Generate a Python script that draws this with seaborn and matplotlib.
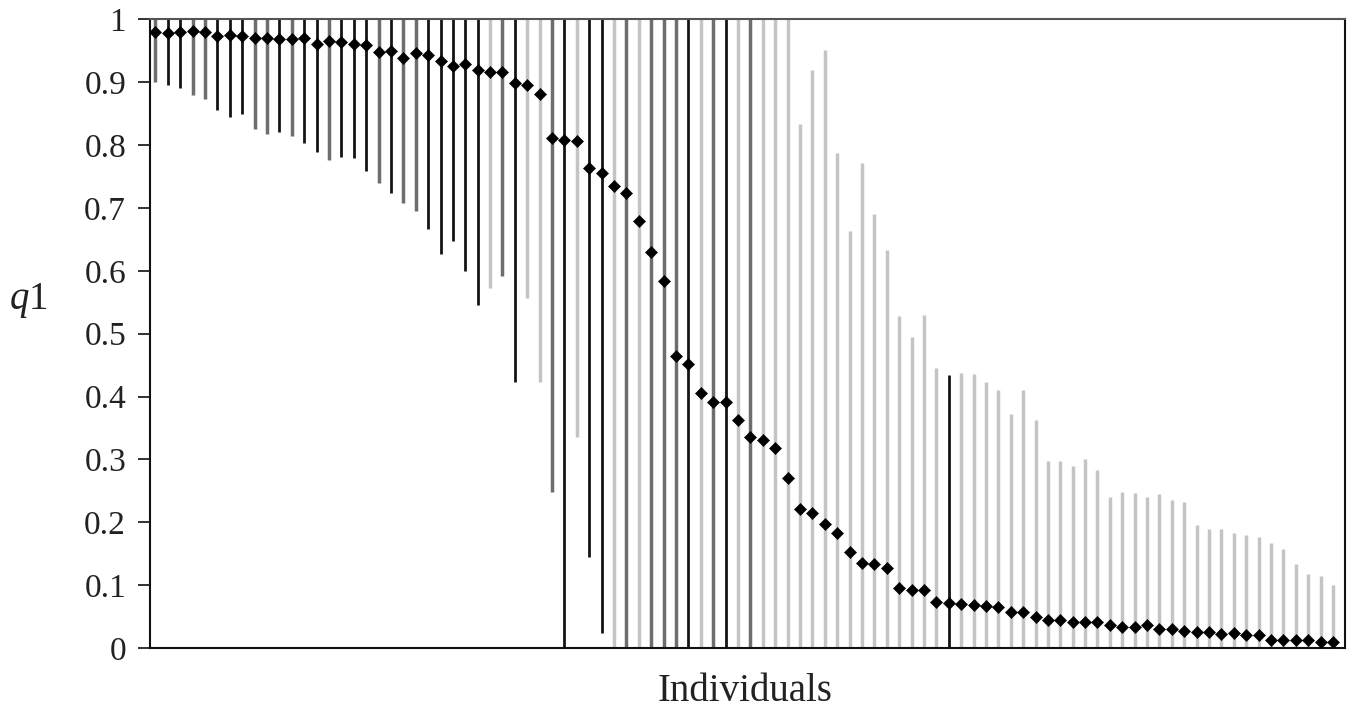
import numpy as np
import pandas as pd
import matplotlib
matplotlib.use('Agg')
import matplotlib.pyplot as plt
import seaborn as sns

# posterior mean of q1 and interval bounds, one entry per individual (sorted)
q_mean = [0.980, 0.978, 0.980, 0.982, 0.980, 0.974, 0.975, 0.974, 0.971, 0.970,
          0.968, 0.968, 0.970, 0.961, 0.966, 0.964, 0.960, 0.959, 0.948, 0.949,
          0.939, 0.947, 0.943, 0.933, 0.926, 0.929, 0.920, 0.916, 0.916, 0.898,
          0.896, 0.881, 0.812, 0.808, 0.806, 0.764, 0.755, 0.735, 0.724, 0.680,
          0.630, 0.583, 0.465, 0.452, 0.405, 0.391, 0.391, 0.362, 0.336, 0.331,
          0.318, 0.271, 0.221, 0.214, 0.198, 0.183, 0.152, 0.136, 0.133, 0.127,
          0.096, 0.092, 0.092, 0.074, 0.072, 0.070, 0.069, 0.067, 0.065, 0.057,
          0.057, 0.049, 0.045, 0.045, 0.042, 0.042, 0.042, 0.037, 0.034, 0.034,
          0.036, 0.031, 0.030, 0.027, 0.025, 0.025, 0.022, 0.024, 0.020, 0.020,
          0.012, 0.012, 0.013, 0.013, 0.010, 0.010]

q_low = [0.900, 0.895, 0.890, 0.879, 0.873, 0.856, 0.845, 0.850, 0.825, 0.817,
         0.821, 0.814, 0.804, 0.789, 0.777, 0.781, 0.780, 0.759, 0.739, 0.723,
         0.708, 0.695, 0.667, 0.626, 0.647, 0.600, 0.545, 0.573, 0.592, 0.423,
         0.556, 0.423, 0.248, 0.000, 0.335, 0.144, 0.024] + [0.0] * 59

q_high = [1.0] * 52 + [
    0.833, 0.920, 0.951, 0.788, 0.663, 0.772, 0.691, 0.633, 0.528, 0.495,
    0.530, 0.446, 0.435, 0.438, 0.436, 0.423, 0.411, 0.373, 0.411, 0.362,
    0.298, 0.297, 0.289, 0.301, 0.283, 0.240, 0.248, 0.246, 0.240, 0.245,
    0.236, 0.232, 0.196, 0.190, 0.190, 0.183, 0.179, 0.177, 0.167, 0.158,
    0.134, 0.118, 0.115, 0.101]

# line shade per individual: k = black, m = mid grey, l = light grey
tone = list("mkkmmkkkmmkmkkmkkkmkmmkkkkklmkllmklkklmlmmmklmklmlll"
            "llllllllllll" "k" "lllllllllllllllllllllllllllllll")

y_ticks = [0, 0.1, 0.2, 0.3, 0.4, 0.5, 0.6, 0.7, 0.8, 0.9, 1]
y_tick_labels = ['0', '0.1', '0.2', '0.3', '0.4', '0.5', '0.6', '0.7', '0.8', '0.9', '1']

df = pd.DataFrame({'ind': np.arange(len(q_mean)), 'q1': q_mean,
                   'low': q_low, 'high': q_high, 'tone': tone})

sns.set_style('ticks')
plt.rcParams['font.family'] = ['Liberation Serif', 'DejaVu Serif']
plt.rcParams['mathtext.fontset'] = 'custom'
plt.rcParams['mathtext.it'] = 'Liberation Serif:italic'
plt.rcParams['mathtext.rm'] = 'Liberation Serif'

fig = plt.figure(figsize=(13.61, 7.08), dpi=100)
ax = fig.add_axes([0.110, 0.0847, 0.878, 0.888])

shades = {'l': '#c4c4c4', 'm': '#6e6e6e', 'k': '#151515'}
widths = {'l': 2.5, 'm': 2.5, 'k': 2.0}
for t in ['l', 'm', 'k']:
    sub = df[df['tone'] == t]
    ax.vlines(sub['ind'], sub['low'], sub['high'], color=shades[t],
              lw=widths[t], zorder=2)

sns.scatterplot(data=df, x='ind', y='q1', marker='D', s=38, color='black',
                edgecolor='black', linewidth=0.4, ax=ax, zorder=3)

ax.set_xlim(-0.46, 95.94)
ax.set_ylim(0, 1)
ax.set_xticks([])
ax.set_yticks(y_ticks)
ax.set_yticklabels(y_tick_labels, fontsize=24)
ax.tick_params(axis='y', direction='out', length=9, width=1.3, pad=8, colors='#222222')

for side in ['left', 'bottom', 'right']:
    ax.spines[side].set_color('#111111')
    ax.spines[side].set_linewidth(1.5)
ax.spines['top'].set_color('#555555')
ax.spines['top'].set_linewidth(1.5)

ax.set_xlabel('Individuals', fontsize=28, color='#222222')
ax.xaxis.set_label_coords(0.498, -0.040)
ax.set_ylabel(r'$q$1', fontsize=28, rotation=0, color='#222222', va='center', ha='center')
ax.yaxis.set_label_coords(-0.102, 0.553)

fig.savefig('out.png', dpi=100)
